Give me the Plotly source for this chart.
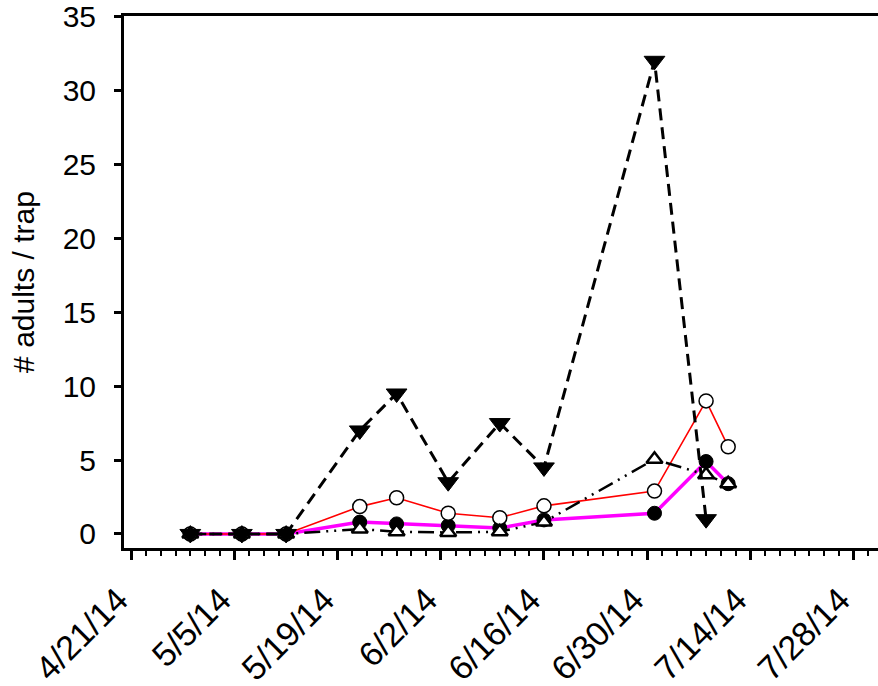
import plotly.graph_objects as go

dates = ["2014-04-29", "2014-05-06", "2014-05-12", "2014-05-22", "2014-05-27",
         "2014-06-03", "2014-06-10", "2014-06-16", "2014-07-01", "2014-07-08", "2014-07-11"]

tri_down_dates = dates[:10]
tri_down = [0, 0, 0, 7.0, 9.5, 3.5, 7.5, 4.5, 32.0, 1.0]
open_circ = [0, 0, 0, 1.85, 2.45, 1.4, 1.1, 1.9, 2.9, 9.0, 5.9]
filled_circ = [0, 0, 0, 0.8, 0.68, 0.56, 0.4, 0.95, 1.4, 4.9, 3.4]
tri_up = [0, 0, 0, 0.33, 0.15, 0.1, 0.15, 0.8, 5.05, 4.0, 3.4]

tick_vals = ["2014-04-21", "2014-05-05", "2014-05-19", "2014-06-02",
             "2014-06-16", "2014-06-30", "2014-07-14", "2014-07-28"]
tick_text = ["4/21/14", "5/5/14", "5/19/14", "6/2/14", "6/16/14", "6/30/14", "7/14/14", "7/28/14"]
y_ticks = [0, 5, 10, 15, 20, 25, 30, 35]

FONT = "Arial, Liberation Sans, sans-serif"

fig = go.Figure()
fig.add_trace(go.Scatter(
    x=dates, y=filled_circ, mode="lines+markers",
    line=dict(color="#ff00ff", width=3.5),
    marker=dict(symbol="circle", size=14, color="black", line=dict(color="black", width=1)),
))
fig.add_trace(go.Scatter(
    x=dates, y=open_circ, mode="lines+markers",
    line=dict(color="#ff0000", width=1.6),
    marker=dict(symbol="circle", size=14, color="white", line=dict(color="black", width=1.5)),
))
fig.add_trace(go.Scatter(
    x=dates, y=tri_up, mode="lines+markers",
    line=dict(color="black", width=2.5, dash="16px,6px,2px,6px,2px,6px"),
    marker=dict(symbol="triangle-up", size=14, color="white", line=dict(color="black", width=2.5)),
))
fig.add_trace(go.Scatter(
    x=tri_down_dates, y=tri_down, mode="lines+markers",
    line=dict(color="black", width=3, dash="12px,7px"),
    marker=dict(symbol="triangle-down", size=18, color="black", line=dict(color="black", width=1)),
))

fig.update_layout(
    width=878, height=686,
    margin=dict(l=124, r=0, t=16, b=138, autoexpand=False),
    paper_bgcolor="white", plot_bgcolor="white",
    showlegend=False,
    font=dict(family=FONT, size=30, color="black"),
    xaxis=dict(
        type="date", automargin=False,
        range=["2014-04-20", "2014-07-31 08:00"],
        tickmode="array", tickvals=tick_vals,
        ticktext=[t + "\u00a0\u00a0" for t in tick_text],
        tickangle=-45, ticks="outside", ticklen=9, tickwidth=2.5, tickcolor="black",
        ticklabelstandoff=-7, ticklabeloverflow="allow",
        minor=dict(tickmode="linear", tick0="2014-04-21", dtick=2 * 86400000,
                   ticks="outside", ticklen=5, tickwidth=2, tickcolor="black"),
        showline=True, linecolor="black", linewidth=3, mirror=True,
        showgrid=False, zeroline=False,
        tickfont=dict(family=FONT, size=34, color="black"),
    ),
    yaxis=dict(
        automargin=False,
        range=[-0.95, 35.03],
        tickmode="array", tickvals=y_ticks,
        ticks="outside", ticklen=7, tickwidth=2.5, tickcolor="black",
        ticklabelstandoff=12, ticklabeloverflow="allow",
        showline=True, linecolor="black", linewidth=3,
        showgrid=False, zeroline=False,
        tickfont=dict(family=FONT, size=30, color="black"),
        title=dict(text="# adults / trap", font=dict(family=FONT, size=30, color="black"), standoff=20),
    ),
)

fig.write_html("out.html", config={"displayModeBar": False},
               post_script="document.body.style.margin='0';")
